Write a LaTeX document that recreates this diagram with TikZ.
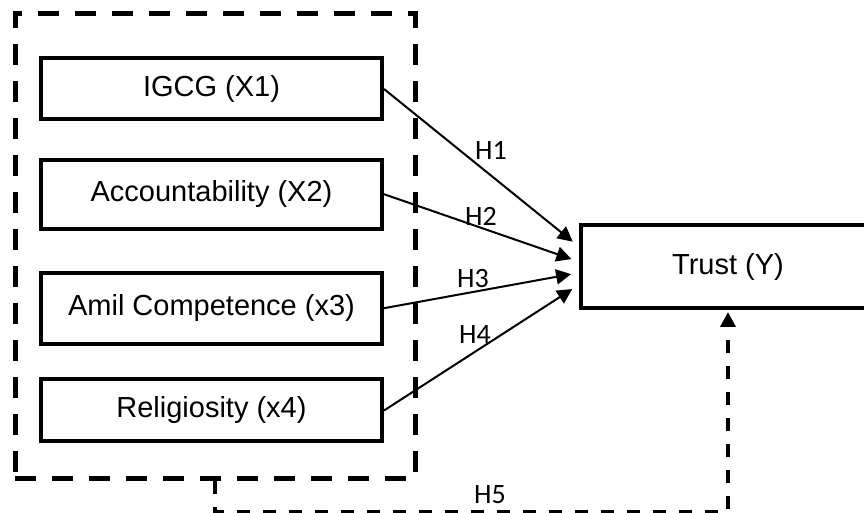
\documentclass[tikz,border=0pt]{standalone}
\usepackage{fontspec}
\setmainfont{Liberation Sans}
\newfontfamily\hfont{Carlito}
\usetikzlibrary{arrows.meta}

\begin{document}
\begin{tikzpicture}[x=0.5pt,y=-0.5pt,
    var/.style={draw,line width=2pt,minimum width=170.5pt,inner sep=0pt,
        font=\fontsize{14.5}{17}\selectfont},
    group/.style={draw,line width=2.5pt,dash pattern=on 10.5pt off 8pt,
        minimum width=200pt,minimum height=232.5pt,inner sep=0pt},
    hyp/.style={-{Triangle[length=7.5pt,width=7.5pt]},line width=1pt,shorten >=4pt},
    feedback/.style={-{Triangle[length=7.5pt,width=7.5pt]},line width=2pt,
        dash pattern=on 6.5pt off 6.5pt,shorten >=1pt},
    hlabel/.style={inner sep=0pt,font=\hfont\fontsize{14}{16}\selectfont}]
  \useasboundingbox (0,0) rectangle (864,513);

  % independent variables
  \node[group] (grp) at (215,246.5) {};
  \node[var,minimum height=30.5pt] (x1) at (211.5,89) {IGCG (X1)};
  \node[var,minimum height=34.5pt] (x2) at (211.5,194.2) {Accountability (X2)};
  \node[var,minimum height=35.5pt] (x3) at (211.5,308.2) {Amil Competence (x3)};
  \node[var,minimum height=31pt] (x4) at (211.5,410.5) {Religiosity (x4)};

  % dependent variable
  \node[var,minimum width=147pt,minimum height=41.3pt] (y) at (728,266.7) {Trust (Y)};

  \draw[hyp] (x1.east) -- ([yshift=10pt]y.west);
  \draw[hyp] (x2.east) -- ([yshift=2.5pt]y.west);
  \draw[hyp] (x3.east) -- ([yshift=-3pt]y.west);
  \draw[hyp] (x4.east) -- ([yshift=-9pt]y.west);
  \draw[feedback] (grp.south) -- ++(0,30.5) -| (y.south);

  \node[hlabel] (h1) at (491,150.5) {H1};
  \node[hlabel] (h2) at (481,216) {H2};
  \node[hlabel] (h3) at (473,279) {H3};
  \node[hlabel] (h4) at (475,335) {H4};
  \node[hlabel] (h5) at (490,495) {H5};
\end{tikzpicture}
\end{document}
